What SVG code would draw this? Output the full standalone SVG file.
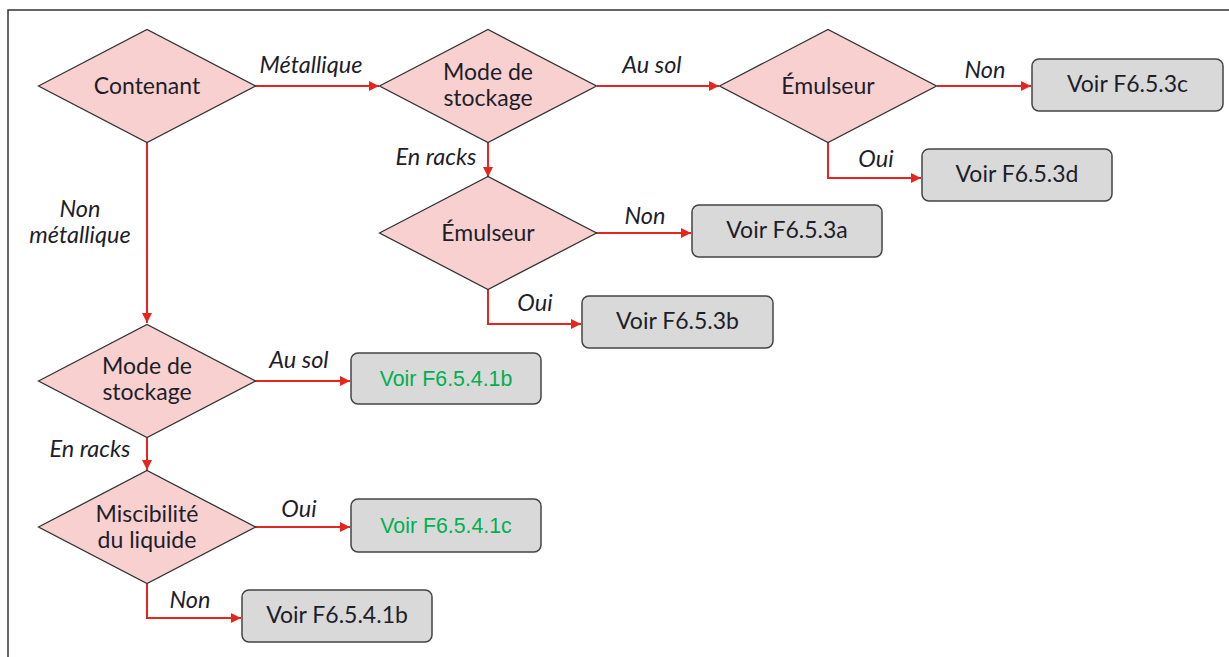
<svg xmlns="http://www.w3.org/2000/svg" width="1229" height="657" viewBox="0 0 1229 657">
<defs>
<style>
.frame{fill:none;stroke:#333;stroke-width:1.5}
.dia{fill:#f8d0d0;stroke:#333;stroke-width:1.3}
.box{fill:#d9d9d9;stroke:#444;stroke-width:1.5}
.nt{font-family:Lato,"Open Sans",sans-serif;font-size:23px;fill:#1e1e2a;text-anchor:middle}
.gt{font-family:"Liberation Sans",Arial,sans-serif;font-size:21.3px;fill:#00b050;text-anchor:middle}
.lb{font-family:Lato,"Open Sans",sans-serif;font-size:23.5px;font-style:italic;fill:#1e1e2a;text-anchor:middle}
.cn{fill:none;stroke:#e5261e;stroke-width:2;marker-end:url(#ah)}
</style>
<marker id="ah" viewBox="0 0 10 10" refX="10" refY="5" markerWidth="5.5" markerHeight="5" markerUnits="strokeWidth" orient="auto">
<path d="M0,0 L10,5 L0,10 z" fill="#e5261e"/>
</marker>
</defs>
<rect width="1229" height="657" fill="#fff"/>
<path class="frame" d="M8,657 V10 H1229"/>
<g id="connectors">
<path class="cn" d="M255,86 H379"/>
<path class="cn" d="M597,86 H719"/>
<path class="cn" d="M937,86 H1031"/>
<path class="cn" d="M828,142 V178 H921"/>
<path class="cn" d="M488,142 V177"/>
<path class="cn" d="M596,233 H691"/>
<path class="cn" d="M488,289 V324 H581"/>
<path class="cn" d="M147,142 V323"/>
<path class="cn" d="M255,381 H350"/>
<path class="cn" d="M147,437 V470"/>
<path class="cn" d="M255,527 H350"/>
<path class="cn" d="M147,584 V618 H241"/>
<text class="lb" x="311" y="73">Métallique</text>
<text class="lb" x="652" y="73">Au sol</text>
<text class="lb" x="985" y="78">Non</text>
<text class="lb" x="876" y="167">Oui</text>
<text class="lb" x="436" y="165">En racks</text>
<text class="lb" x="645" y="224">Non</text>
<text class="lb" x="535" y="311">Oui</text>
<text class="lb" x="80" y="217">Non</text>
<text class="lb" x="80" y="243">métallique</text>
<text class="lb" x="299" y="368">Au sol</text>
<text class="lb" x="90" y="457">En racks</text>
<text class="lb" x="299" y="517">Oui</text>
<text class="lb" x="190" y="608">Non</text>
</g>
<g id="d-contenant">
<polygon class="dia" points="38.5,86 147,29.5 255.5,86 147,142.5"/>
<text class="nt" x="147" y="94">Contenant</text>
</g>
<g id="d-mode1">
<polygon class="dia" points="379.5,86 488,29.5 596.5,86 488,142.5"/>
<text class="nt" x="488" y="80">Mode de</text>
<text class="nt" x="488" y="106">stockage</text>
</g>
<g id="d-emulseur1">
<polygon class="dia" points="719.5,86 828,29.5 936.5,86 828,142.5"/>
<text class="nt" x="828" y="94">Émulseur</text>
</g>
<g id="d-emulseur2">
<polygon class="dia" points="379.5,233 488,176.5 596.5,233 488,289.5"/>
<text class="nt" x="488" y="241">Émulseur</text>
</g>
<g id="d-mode2">
<polygon class="dia" points="38.5,381 147,324.5 255.5,381 147,437.5"/>
<text class="nt" x="147" y="374">Mode de</text>
<text class="nt" x="147" y="400">stockage</text>
</g>
<g id="d-miscibilite">
<polygon class="dia" points="38.5,527 147,470.5 255.5,527 147,583.5"/>
<text class="nt" x="147" y="522">Miscibilité</text>
<text class="nt" x="147" y="548">du liquide</text>
</g>
<g id="b-3c">
<rect class="box" x="1032" y="59" width="191" height="52" rx="7"/>
<text class="nt" x="1127.5" y="92">Voir F6.5.3c</text>
</g>
<g id="b-3d">
<rect class="box" x="922" y="149" width="190" height="52" rx="7"/>
<text class="nt" x="1017" y="182">Voir F6.5.3d</text>
</g>
<g id="b-3a">
<rect class="box" x="692" y="205" width="190" height="52" rx="7"/>
<text class="nt" x="787" y="238">Voir F6.5.3a</text>
</g>
<g id="b-3b">
<rect class="box" x="582" y="296" width="191" height="52" rx="7"/>
<text class="nt" x="677.5" y="329">Voir F6.5.3b</text>
</g>
<g id="b-41b-sol">
<rect class="box" x="351" y="353" width="190" height="51" rx="7"/>
<text class="gt" x="446" y="386">Voir F6.5.4.1b</text>
</g>
<g id="b-41c">
<rect class="box" x="351" y="499" width="190" height="53" rx="7"/>
<text class="gt" x="446" y="533">Voir F6.5.4.1c</text>
</g>
<g id="b-41b-non">
<rect class="box" x="242" y="590" width="190" height="52" rx="7"/>
<text class="nt" x="337" y="623">Voir F6.5.4.1b</text>
</g>
</svg>
